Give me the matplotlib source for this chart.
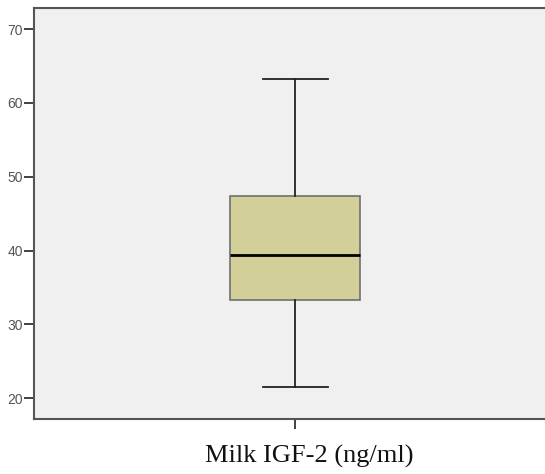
import numpy as np
import matplotlib.pyplot as plt

# Box plot summary (ng/ml)
label = 'Milk IGF-2 (ng/ml)'
whisker_low = 21.6
q1 = 33.3
median = 39.4
q3 = 47.4
whisker_high = 63.2
yticks = [20, 30, 40, 50, 60, 70]

stats = [{'whislo': whisker_low, 'q1': q1, 'med': median,
          'q3': q3, 'whishi': whisker_high, 'fliers': [], 'label': label}]

fig = plt.figure(figsize=(5.45, 4.74), dpi=100)
ax = fig.add_axes([34 / 545, 1 - 419 / 474, 1 - 34 / 545, 411 / 474])
ax.set_facecolor('#f0f0f0')

ax.bxp(stats, positions=[1], widths=0.509, capwidths=0.254, patch_artist=True,
       showfliers=False,
       boxprops=dict(facecolor='#d3cf98', edgecolor='#707070', linewidth=1.2),
       medianprops=dict(color='black', linewidth=2),
       whiskerprops=dict(color='#222222', linewidth=1.3),
       capprops=dict(color='#222222', linewidth=1.3))

ax.set_xlim(-0.022, 1.978)
ax.set_ylim(17.2, 72.85)
ax.set_yticks(yticks)
ax.set_xticks([1])
ax.set_xticklabels([''])

# the category label sits a little right of the tick in the original
fig.text(309.5 / 545, 1 - 456 / 474, label, fontsize=19, family='Liberation Serif',
         color='#111111', ha='center', va='center')

ax.tick_params(axis='y', direction='out', length=7, width=1.3, color='#333333',
               labelsize=10, labelcolor='#555555', pad=1)
ax.tick_params(axis='x', direction='out', length=7, width=1.3, color='#333333')
for lab in ax.get_yticklabels():
    lab.set_family('Liberation Sans')

ax.spines['right'].set_visible(False)
for s in ['left', 'bottom', 'top']:
    ax.spines[s].set_color('#555555')
    ax.spines[s].set_linewidth(1.5)

plt.savefig('out.png', dpi=100)
